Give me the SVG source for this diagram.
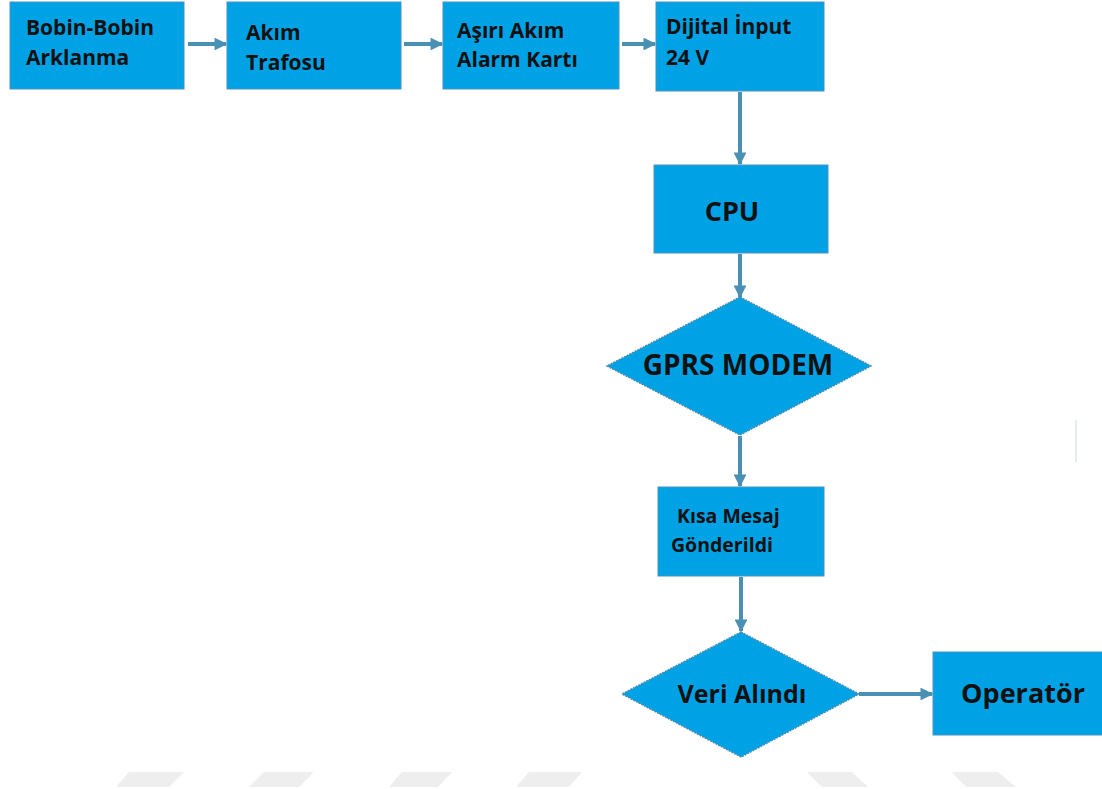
<svg xmlns="http://www.w3.org/2000/svg" width="1102" height="789" viewBox="0 0 1102 789">
<defs>
<marker id="ah" viewBox="0 0 10 10" refX="9" refY="5" markerWidth="3.2" markerHeight="3.2" orient="auto" markerUnits="strokeWidth">
<path d="M0,0 L10,5 L0,10 Z" fill="#4A90B5"/>
</marker>
<style>
.box{fill:#00A2E6;stroke:#4A92C0;stroke-width:1}
.dia{fill:#00A2E6;stroke:#4A8DB5;stroke-width:1.5;stroke-dasharray:2 1}
.t{font-family:"Open Sans","Liberation Sans",sans-serif;font-weight:bold;fill:#111}
.c{stroke:#4A90B5;stroke-width:4;fill:none;marker-end:url(#ah)}
.wm{fill:#EEEEEE}
</style>
</defs>
<rect width="1102" height="789" fill="#fff"/>
<g id="watermark">
<polygon class="wm" points="129,772 184,772 169,787 116,787"/>
<polygon class="wm" points="264,772 314,772 299,787 249,787"/>
<polygon class="wm" points="402,772 452,772 438,787 389,787"/>
<polygon class="wm" points="529,772 582,772 569,787 516,787"/>
<polygon class="wm" points="807,772 852,772 868,787 822,787"/>
<polygon class="wm" points="952,772 998,772 1016,787 966,787"/>
<line x1="1076" y1="420" x2="1076" y2="462" stroke="#E4ECF2" stroke-width="2"/>
</g>
<g id="connectors">
<line class="c" x1="188" y1="44" x2="226" y2="44"/>
<line class="c" x1="404" y1="44" x2="442" y2="44"/>
<line class="c" x1="622" y1="44" x2="655" y2="44"/>
<line class="c" x1="740" y1="92" x2="740" y2="164"/>
<line class="c" x1="740" y1="254" x2="740" y2="297"/>
<line class="c" x1="740" y1="436" x2="740" y2="486"/>
<line class="c" x1="741" y1="577" x2="741" y2="631"/>
<line class="c" x1="859" y1="694" x2="932" y2="694"/>
</g>
<g id="n1"><rect class="box" x="10" y="2" width="174" height="87"/>
<text class="t" x="26" y="35" font-size="21">Bobin-Bobin</text>
<text class="t" x="26" y="65" font-size="21">Arklanma</text></g>
<g id="n2"><rect class="box" x="227" y="2" width="174" height="87"/>
<text class="t" x="246" y="40" font-size="21">Akım</text>
<text class="t" x="246" y="70" font-size="21">Trafosu</text></g>
<g id="n3"><rect class="box" x="443" y="2" width="176" height="87"/>
<text class="t" x="457" y="38" font-size="21">Aşırı Akım</text>
<text class="t" x="457" y="67" font-size="21">Alarm Kartı</text></g>
<g id="n4"><rect class="box" x="656" y="2" width="168" height="89"/>
<text class="t" x="666" y="34" font-size="21">Dijital İnput</text>
<text class="t" x="666" y="65" font-size="21">24 V</text></g>
<g id="cpu"><rect class="box" x="654" y="165" width="174" height="88"/>
<text class="t" x="732" y="221" font-size="27" text-anchor="middle">CPU</text></g>
<g id="gprs"><polygon class="dia" points="740,297 871,366 740,435 607,366"/>
<text class="t" x="738" y="375" font-size="28" text-anchor="middle">GPRS MODEM</text></g>
<g id="sms"><rect class="box" x="658" y="487" width="166" height="89"/>
<text class="t" x="677" y="523" font-size="19.5">Kısa Mesaj</text>
<text class="t" x="671" y="552" font-size="19.5">Gönderildi</text></g>
<g id="veri"><polygon class="dia" points="741,632 859,694 741,757 622,694"/>
<text class="t" x="742" y="703" font-size="25" text-anchor="middle">Veri Alındı</text></g>
<g id="op"><rect class="box" x="933" y="652" width="170" height="83"/>
<text class="t" x="1023" y="703" font-size="27" text-anchor="middle">Operatör</text></g>
</svg>
